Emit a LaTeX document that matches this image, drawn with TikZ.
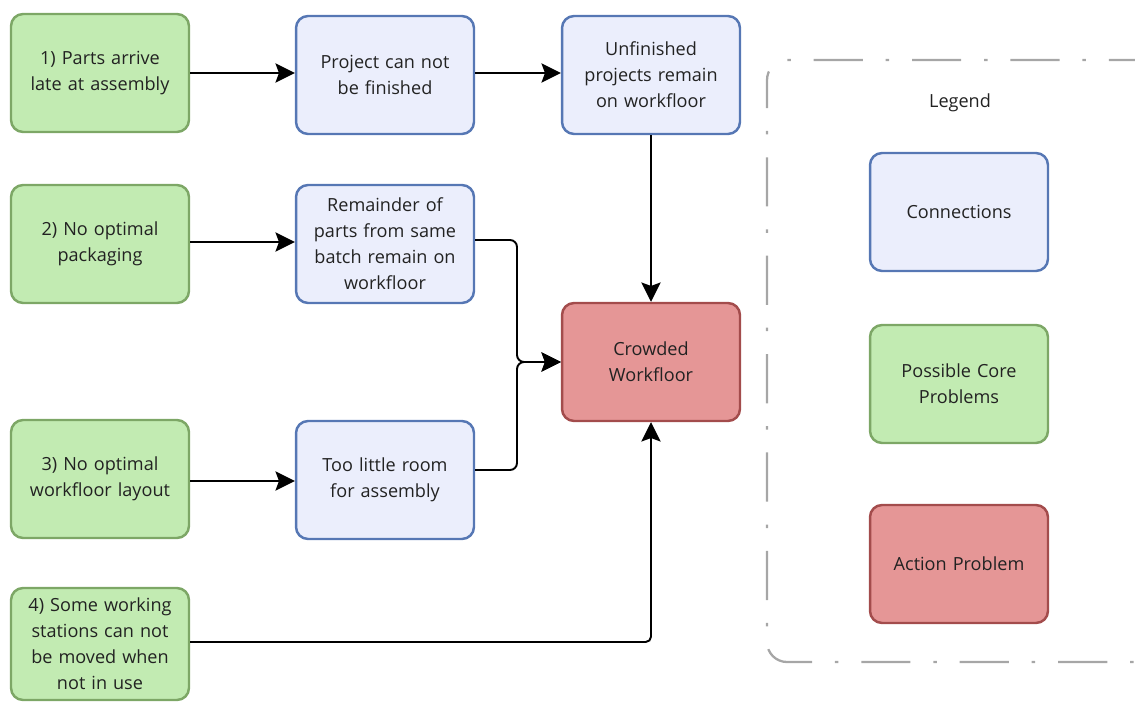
\documentclass[tikz,border=0pt]{standalone}
\usepackage{fontspec}
\setmainfont{Open Sans}
\usetikzlibrary{arrows.meta}
\definecolor{gfill}{HTML}{C2EBB2}
\definecolor{gdraw}{HTML}{7DA766}
\definecolor{bfill}{HTML}{EBEEFC}
\definecolor{bdraw}{HTML}{5677B4}
\definecolor{rfill}{HTML}{E59696}
\definecolor{rdraw}{HTML}{A34C4C}
\definecolor{txt}{HTML}{222222}
\tikzset{
  box/.style={rounded corners=0.24cm, line width=1.4pt, minimum width=3.56cm, minimum height=2.36cm,
    align=center, text width=3.4cm, font=\fontsize{10.3}{14.8}\selectfont, text=txt, inner sep=0pt},
  gbox/.style={box, fill=gfill, draw=gdraw},
  bbox/.style={box, fill=bfill, draw=bdraw},
  rbox/.style={box, fill=rfill, draw=rdraw},
  conn/.style={line width=1.1pt, -{Stealth[length=11pt,width=11pt,inset=2pt]}},
  plain/.style={line width=1.1pt},
}
\begin{document}
\begin{tikzpicture}[x=0.02cm,y=-0.02cm]
\useasboundingbox (0,0) rectangle (1135,702);
\clip (0,0) rectangle (1135,702);
% legend frame
\draw[line width=1.3pt, draw=black!35, rounded corners=0.4cm,
  dash pattern=on 28pt off 13pt on 2pt off 13pt, dash phase=12pt]
  (767,60) rectangle (1160,662);
\node[font=\fontsize{10.3}{12}\selectfont, text=txt] (leg) at (960,103) {Legend};
\node[bbox] (lc) at (959,212) {Connections};
\node[gbox] (lp) at (959,384) {Possible Core\\Problems};
\node[rbox] (la) at (959,564) {Action Problem};
% main nodes
\node[gbox] (g1) at (100,73) {1) Parts arrive\\late at assembly};
\node[gbox] (g2) at (100,244) {2) No optimal\\packaging};
\node[gbox] (g3) at (100,479) {3) No optimal\\workfloor layout};
\node[gbox, minimum height=2.24cm] (g4) at (100,644) {4) Some working\\stations can not\\be moved when\\not in use};
\node[bbox] (b1) at (385,75) {Project can not\\be finished};
\node[bbox] (b2) at (385,244) {Remainder of\\parts from same\\batch remain on\\workfloor};
\node[bbox] (b3) at (385,480) {Too little room\\for assembly};
\node[bbox] (b4) at (651,75) {Unfinished\\projects remain\\on workfloor};
\node[rbox] (r) at (651,362) {Crowded\\Workfloor};
% connectors
\draw[conn] (g1.east |- 0,73) -- (b1.west |- 0,73);
\draw[conn] (b1.east |- 0,73) -- (b4.west |- 0,73);
\draw[conn] (g2.east |- 0,242) -- (b2.west |- 0,242);
\draw[conn] (g3.east |- 0,481) -- (b3.west |- 0,481);
\draw[conn] (b4.south) -- (r.north);
\coordinate (j) at (517,362);
\draw[conn, rounded corners=4pt] (b2.east |- 0,240) -- (517,240) -- (j) -- (r.west);
\draw[conn, rounded corners=4pt] (b3.east |- 0,470) -- (517,470) -- (j) -- (r.west);
\draw[conn, rounded corners=3pt] (g4.east |- 0,642) -- (651,642) -- (r.south);
\end{tikzpicture}
\end{document}
